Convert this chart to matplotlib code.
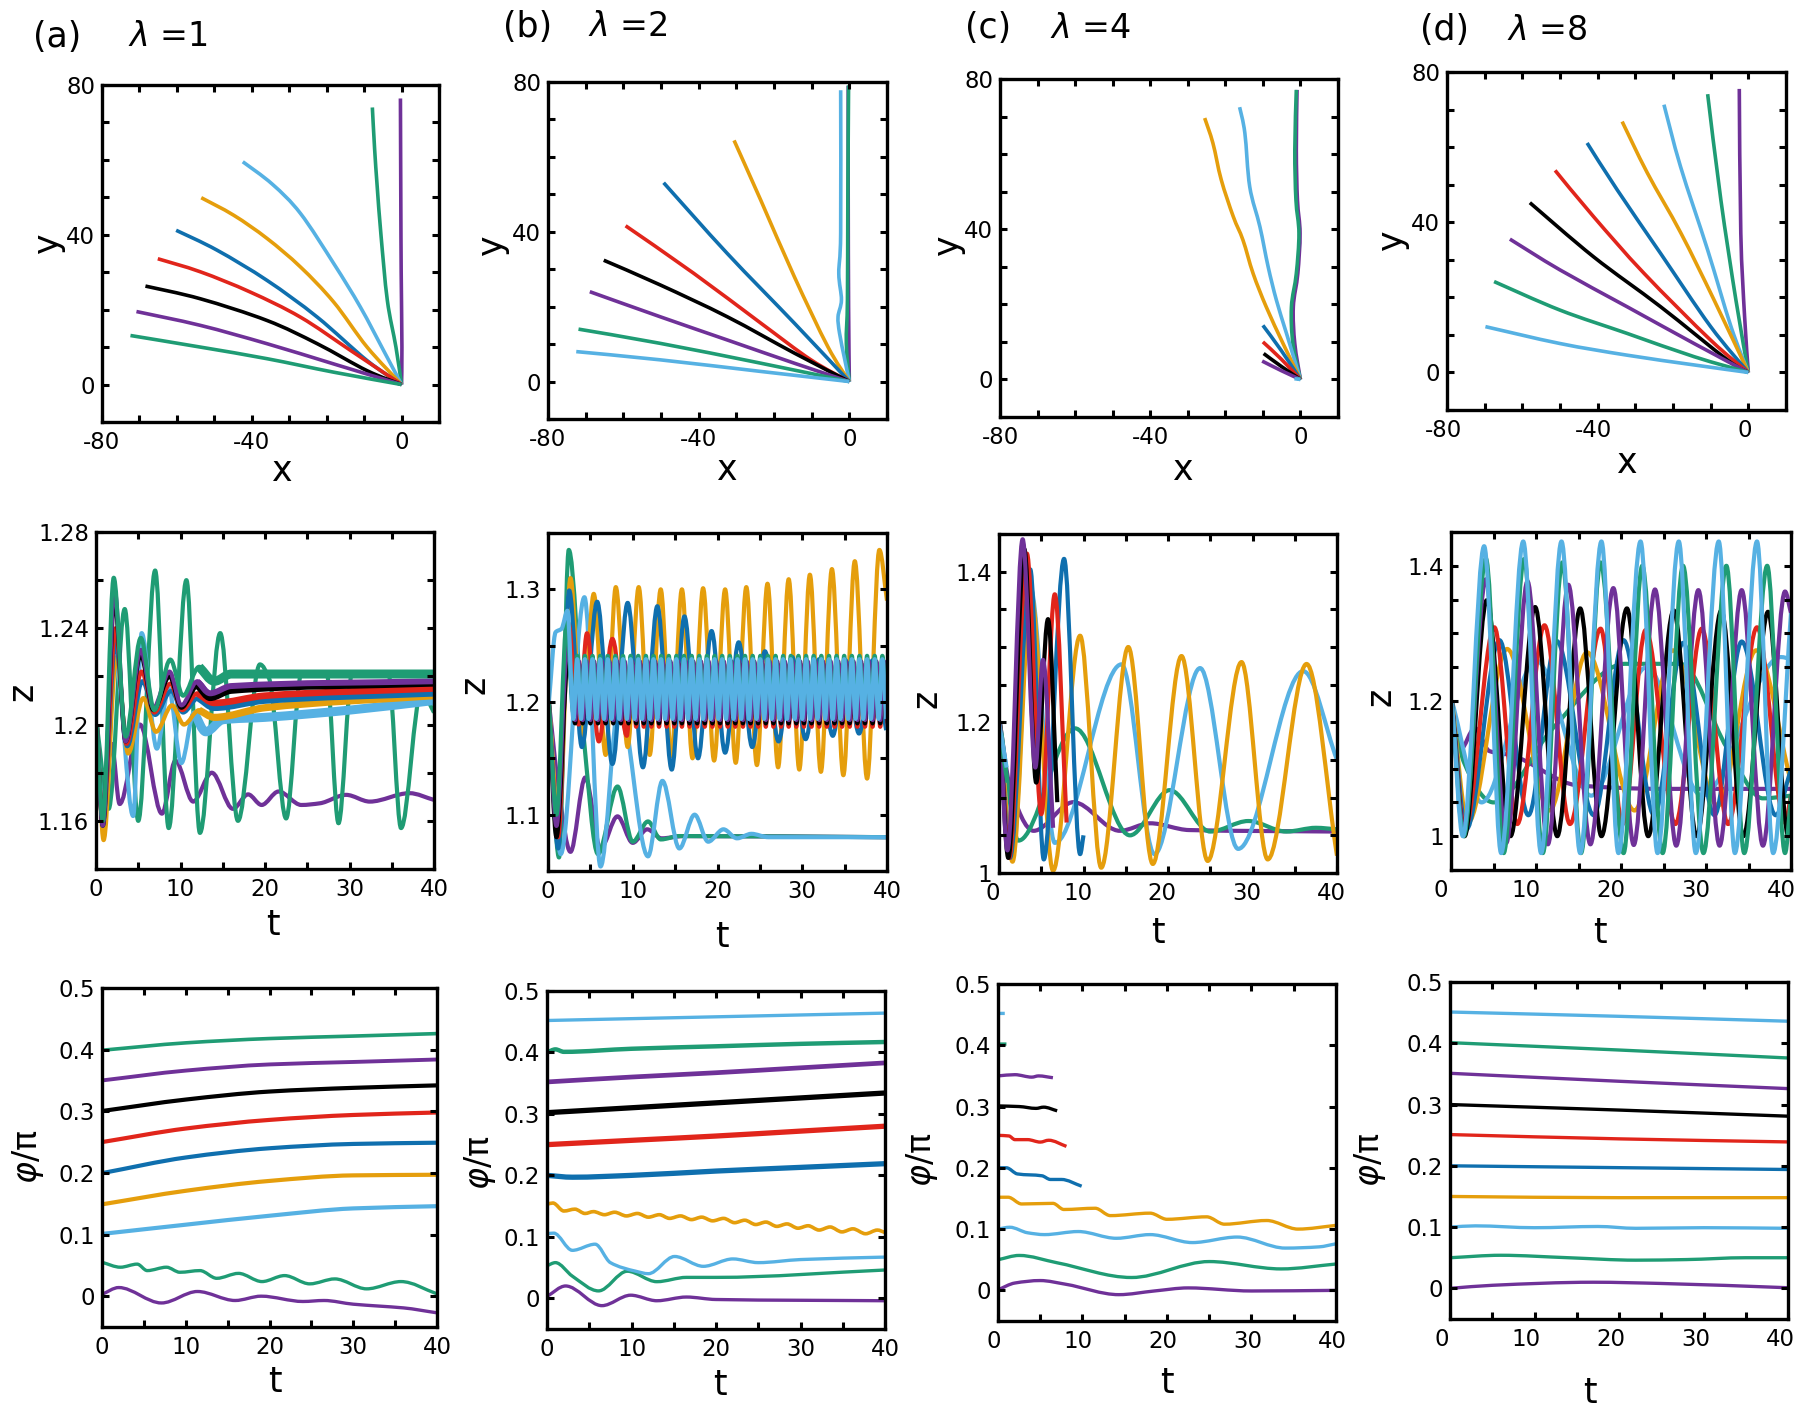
import numpy as np
import matplotlib
matplotlib.use("Agg")
import matplotlib.pyplot as plt
from matplotlib.path import Path
from matplotlib.patches import PathPatch
from matplotlib.transforms import ScaledTranslation

plt.rcParams['font.family'] = ['DejaVu Sans']
plt.rcParams['mathtext.fontset'] = 'dejavusans'

# colours by initial angle phi0/pi
C00 = "#6F3198"; C05 = "#1F9C74"; C10 = "#56B1E3"; C15 = "#E59E0C"; C20 = "#0F6FAE"
C25 = "#E1251B"; C30 = "#000000"; C35 = "#6F3198"; C40 = "#1F9C74"; C45 = "#56B1E3"

# ---------------- tick values / labels ----------------
XT_TOP = [-80, -70, -60, -50, -40, -30, -20, -10, 0, 10]
XTL_TOP = ['-80', '', '', '', '-40', '', '', '', '0', '']
YT_TOP = [-10, 0, 10, 20, 30, 40, 50, 60, 70, 80]
YTL_TOP = ['', '0', '', '', '', '40', '', '', '', '80']
XT_T = [0, 5, 10, 15, 20, 25, 30, 35, 40]
XTL_T = ['0', '', '10', '', '20', '', '30', '', '40']
YT_ZA = [1.14, 1.16, 1.18, 1.20, 1.22, 1.24, 1.26, 1.28]
YTL_ZA = ['', '1.16', '', '1.2', '', '1.24', '', '1.28']
YT_ZB = [1.05, 1.10, 1.15, 1.20, 1.25, 1.30, 1.35]
YTL_ZB = ['', '1.1', '', '1.2', '', '1.3', '']
YT_ZC = [1.00, 1.05, 1.10, 1.15, 1.20, 1.25, 1.30, 1.35, 1.40, 1.45]
YTL_ZC = ['1', '', '', '', '1.2', '', '', '', '1.4', '']
YT_ZD = [0.95, 1.00, 1.05, 1.10, 1.15, 1.20, 1.25, 1.30, 1.35, 1.40, 1.45]
YTL_ZD = ['', '1', '', '', '', '1.2', '', '', '', '1.4', '']
YT_P = [0.0, 0.1, 0.2, 0.3, 0.4, 0.5]
YTL_P = ['0', '0.1', '0.2', '0.3', '0.4', '0.5']

# ================= ROW 1 : trajectories (x, y) =================
ta_x_00 = [0, 0.1, -0.1, -0.2, -0.3];            ta_y_00 = [0, 10, 30, 50, 76.4]
ta_x_05 = [0, -1.5, -3.8, -5.5, -6.5, -7.2, -7.8]; ta_y_05 = [0, 10, 22.5, 40, 52.8, 63, 74]
ta_x_10 = [0, -4.7, -11.0, -18.1, -27.0, -34.5, -42.4]; ta_y_10 = [0, 8.9, 20.7, 32.3, 45.7, 53.5, 59.5]
ta_x_15 = [0, -9.2, -18.1, -27.0, -35.9, -44.8, -53.5]; ta_y_15 = [0, 10.0, 22.0, 31.4, 39.0, 45.2, 49.9]
ta_x_20 = [0, -9.2, -22.5, -35.9, -49.3, -60.2]; ta_y_20 = [0, 6.4, 18.0, 27.8, 35.9, 41.2]
ta_x_25 = [0, -13.6, -27.0, -40.4, -53.7, -65.1]; ta_y_25 = [0, 9.1, 18.0, 24.7, 30.1, 33.6]
ta_x_30 = [0, -9.2, -22.5, -35.9, -53.7, -68.4]; ta_y_30 = [0, 3.7, 10.9, 17.1, 22.9, 26.3]
ta_x_35 = [0, -18.1, -35.9, -53.7, -70.8];        ta_y_35 = [0, 5.5, 10.9, 15.8, 19.5]
ta_x_40 = [0, -18.1, -35.9, -53.7, -72.4];        ta_y_40 = [0, 3.3, 6.9, 10.0, 13.1]

tb_x_00 = [0, -0.2, -0.3, -0.3];                 tb_y_00 = [0, 20, 50, 79]
tb_x_05 = [0, -0.8, -0.5, -0.4, -0.2];           tb_y_05 = [0, 10.2, 21.8, 48.4, 79.1]
tb_x_10 = [0, -1.2, -2.6, -3.0, -2.1, -2.8, -2.3, -2.3]; tb_y_10 = [0, 5.8, 12.9, 17.3, 21.8, 28.9, 39.6, 77.8]
tb_x_15 = [0, -5.7, -14.6, -23.5, -30.6];        tb_y_15 = [0, 9.3, 28.0, 48.4, 64.4]
tb_x_20 = [0, -14.6, -32.4, -49.3];              tb_y_20 = [0, 15.6, 34.2, 53.1]
tb_x_25 = [0, -10.2, -23.5, -41.3, -59.4];       tb_y_25 = [0, 5.8, 15.6, 28.9, 41.6]
tb_x_30 = [0, -14.6, -32.4, -50.2, -65.2];       tb_y_30 = [0, 7.6, 17.3, 25.8, 32.4]
tb_x_35 = [0, -14.6, -32.4, -50.2, -68.9];       tb_y_35 = [0, 4.9, 11.1, 17.3, 24.0]
tb_x_40 = [0, -23.5, -50.2, -71.9];              tb_y_40 = [0, 4.9, 10.2, 14.0]
tb_x_45 = [0, -23.5, -50.2, -72.5];              tb_y_45 = [0, 2.7, 5.8, 8.0]

tc_x_00 = [0, -1.5, -1.9, -0.7, -0.1, -0.8, -1.1, -0.9]; tc_y_00 = [0, 9.5, 19.3, 28.2, 38.9, 47.8, 61.1, 77.1]
tc_x_05 = [0, -2.0, -2.4, -1.1, -0.4, -1.2, -1.5, -1.1]; tc_y_05 = [0, 9.5, 19.3, 28.2, 38.9, 47.8, 61.1, 77.1]
tc_x_10 = [0, -3.7, -6.4, -8.6, -10.8, -13.5, -14.8, -16.2]; tc_y_10 = [0, 12.2, 21.1, 30.0, 40.7, 51.3, 65.6, 72.5]
tc_x_15 = [0, -4.6, -9.1, -12.6, -15.3, -17.9, -21.1, -23.3, -25.5]; tc_y_15 = [0, 9.5, 19.3, 28.2, 37.1, 43.4, 53.2, 62.9, 69.6]
tc_x_20 = [0, -5.1, -10.0]; tc_y_20 = [0, 7.7, 14.4]
tc_x_25 = [0, -5.0, -10.0]; tc_y_25 = [0, 5.3, 10.0]
tc_x_30 = [0, -5.0, -9.8];  tc_y_30 = [0, 3.4, 6.9]
tc_x_35 = [0, -5.0, -10.2]; tc_y_35 = [0, 2.3, 4.9]
tc_x_40 = [0, -0.9];        tc_y_40 = [0, 0.3]
tc_x_45 = [0, -1.6];        tc_y_45 = [0, 0.2]

td_x_00 = [0, -1.0, -2.0, -2.4];                 td_y_00 = [0, 15, 37.1, 75.5]
td_x_05 = [0, -3.3, -7.3, -10.8];                td_y_05 = [0, 19.3, 46.0, 74.1]
td_x_10 = [0, -4.6, -10.8, -18.0, -22.4];        td_y_10 = [0, 12.2, 32.6, 54.8, 71.3]
td_x_15 = [0, -9.1, -17.9, -26.8, -33.5];        td_y_15 = [0, 19.3, 37.1, 53.1, 66.8]
td_x_20 = [0, -10.0, -23.3, -34.8, -42.8];       td_y_20 = [0, 12.2, 31.7, 48.6, 61.1]
td_x_25 = [0, -10.0, -27.7, -41.1, -51.3];       td_y_25 = [0, 8.6, 26.4, 41.5, 53.8]
td_x_30 = [0, -5.5, -23.3, -41.1, -58.0];        td_y_30 = [0, 3.3, 17.5, 30.8, 45.2]
td_x_35 = [0, -14.4, -32.2, -50.0, -63.3];       td_y_35 = [0, 7.7, 17.5, 27.3, 35.5]
td_x_40 = [0, -14.4, -32.2, -50.0, -67.5];       td_y_40 = [0, 4.2, 10.4, 16.6, 24.2]
td_x_45 = [0, -14.4, -32.2, -50.0, -69.8];       td_y_45 = [0, 2.0, 4.6, 7.7, 12.2]

# ================= ROW 2 : z(t), extrema =================
# (a) lambda = 1
za_t_00 = [0.1, 0.8, 1.85, 2.8, 5.2, 7.8, 9.4, 11.5, 13.7, 16.2, 18.0, 19.6, 21.6, 24.3, 26.5, 29.6, 32.4, 37.1, 40.0]
za_z_00 = [1.2, 1.16, 1.192, 1.167, 1.2, 1.163, 1.185, 1.168, 1.18, 1.165, 1.171, 1.1666, 1.1722, 1.1666, 1.1673, 1.1708, 1.168, 1.1715, 1.1687]
za_t_05 = [0.1, 1.5, 3.4, 5.0, 7.0, 8.6, 10.7, 12.3, 14.7, 16.8, 19.4, 20.5, 22.5, 24.3, 27.3, 28.7, 30.3, 34.6, 36.1, 38.5, 40.0]
za_z_05 = [1.2, 1.165, 1.248, 1.16, 1.264, 1.157, 1.26, 1.155, 1.238, 1.16, 1.225, 1.219, 1.161, 1.221, 1.221, 1.159, 1.221, 1.221, 1.157, 1.214, 1.205]
za_t_10 = [0.1, 0.9, 2.3, 4.4, 5.4, 7.2, 8.6, 10.1, 11.6, 13.0, 15.0, 20.0, 30.0, 40.0]
za_z_10 = [1.2, 1.158, 1.226, 1.162, 1.238, 1.19, 1.215, 1.184, 1.205, 1.197, 1.202, 1.203, 1.206, 1.21]
za_t_15 = [0.1, 0.9, 2.4, 3.8, 5.6, 7.1, 9.0, 10.4, 12.2, 14.0, 20.0, 40.0]
za_z_15 = [1.2, 1.152, 1.228, 1.188, 1.211, 1.197, 1.208, 1.2, 1.206, 1.203, 1.207, 1.212]
za_t_20 = [0.1, 0.8, 2.3, 3.7, 5.5, 7.0, 8.9, 10.3, 12.1, 14.0, 20.0, 40.0]
za_z_20 = [1.2, 1.158, 1.234, 1.191, 1.218, 1.204, 1.214, 1.205, 1.211, 1.207, 1.21, 1.213]
za_t_25 = [0.1, 0.8, 2.3, 3.6, 5.4, 6.9, 8.8, 10.2, 12.0, 14.0, 20.0, 40.0]
za_z_25 = [1.2, 1.159, 1.240, 1.192, 1.222, 1.205, 1.217, 1.206, 1.213, 1.209, 1.212, 1.215]
za_t_30 = [0.1, 0.8, 2.2, 3.5, 5.3, 6.8, 8.7, 10.1, 12.0, 13.5, 16.0, 40.0]
za_z_30 = [1.2, 1.158, 1.252, 1.193, 1.229, 1.206, 1.220, 1.207, 1.216, 1.211, 1.214, 1.217]
za_t_35 = [0.1, 0.8, 2.2, 3.5, 5.3, 6.8, 8.7, 10.1, 12.0, 13.5, 16.0, 40.0]
za_z_35 = [1.2, 1.158, 1.256, 1.193, 1.231, 1.207, 1.222, 1.208, 1.218, 1.213, 1.216, 1.218]
za_t_40 = [0.1, 0.8, 2.1, 3.5, 5.3, 6.9, 8.8, 10.3, 12.2, 14.0, 16.0, 40.0]
za_z_40 = [1.2, 1.16, 1.261, 1.195, 1.236, 1.206, 1.227, 1.212, 1.224, 1.218, 1.221, 1.221]

# (b) lambda = 2  -- times of the fast oscillation extrema in the dense band
t_band_b1 = [3.0, 3.45, 3.9, 4.35, 4.8, 5.25, 5.7, 6.15, 6.6, 7.05, 7.5, 7.95, 8.4, 8.85, 9.3, 9.75,
             10.2, 10.65, 11.1, 11.55, 12.0, 12.45, 12.9, 13.35, 13.8, 14.25, 14.7, 15.15, 15.6, 16.05,
             16.5, 16.95, 17.4, 17.85, 18.3, 18.75, 19.2, 19.65, 20.1, 20.55, 21.0, 21.45, 21.9, 22.35,
             22.8, 23.25, 23.7, 24.15, 24.6, 25.05, 25.5, 25.95, 26.4, 26.85, 27.3, 27.75, 28.2, 28.65,
             29.1, 29.55, 30.0, 30.45, 30.9, 31.35, 31.8, 32.25, 32.7, 33.15, 33.6, 34.05, 34.5, 34.95,
             35.4, 35.85, 36.3, 36.75, 37.2, 37.65, 38.1, 38.55, 39.0, 39.45, 39.9]
t_band_b2 = [3.2, 3.65, 4.1, 4.55, 5.0, 5.45, 5.9, 6.35, 6.8, 7.25, 7.7, 8.15, 8.6, 9.05, 9.5, 9.95,
             10.4, 10.85, 11.3, 11.75, 12.2, 12.65, 13.1, 13.55, 14.0, 14.45, 14.9, 15.35, 15.8, 16.25,
             16.7, 17.15, 17.6, 18.05, 18.5, 18.95, 19.4, 19.85, 20.3, 20.75, 21.2, 21.65, 22.1, 22.55,
             23.0, 23.45, 23.9, 24.35, 24.8, 25.25, 25.7, 26.15, 26.6, 27.05, 27.5, 27.95, 28.4, 28.85,
             29.3, 29.75, 30.2, 30.65, 31.1, 31.55, 32.0, 32.45, 32.9, 33.35, 33.8, 34.25, 34.7, 35.15,
             35.6, 36.05, 36.5, 36.95, 37.4, 37.85, 38.3, 38.75, 39.2, 39.65, 40.1]

zb_t_00 = [0.1, 1.3, 2.65, 4.4, 6.2, 8.2, 10.0, 11.7, 13.4, 16.0, 40.0]
zb_z_00 = [1.2, 1.12, 1.067, 1.133, 1.07, 1.0985, 1.075, 1.087, 1.079, 1.081, 1.08]
zb_t_05 = [0.1, 1.3, 2.45, 4.2, 5.9, 8.2, 10.0, 11.8, 13.3, 15.5, 40.0]
zb_z_05 = [1.2, 1.062, 1.335, 1.17, 1.065, 1.125, 1.076, 1.094, 1.078, 1.081, 1.08]
zb_t_10 = [0.1, 1.5, 4.3, 6.2, 8.4, 11.8, 13.5, 15.5, 17.3, 18.9, 20.7, 22.3, 24.0, 26.0, 40.0]
zb_z_10 = [1.2, 1.065, 1.293, 1.054, 1.2, 1.063, 1.13, 1.07, 1.1, 1.076, 1.087, 1.079, 1.083, 1.08, 1.08]
zb_t_15 = [0.1, 1.3, 2.65, 4.0, 5.4, 6.8, 8.0, 9.4, 10.7, 12.0, 13.3, 14.55, 15.8, 17.05, 18.3, 19.6,
           20.9, 22.15, 23.4, 24.65, 25.9, 27.15, 28.4, 29.65, 30.9, 32.2, 33.5, 34.85, 36.2, 37.65, 39.1, 40.0]
zb_z_15 = [1.2, 1.09, 1.31, 1.165, 1.296, 1.153, 1.302, 1.16, 1.302, 1.153, 1.300, 1.152, 1.300, 1.15,
           1.301, 1.148, 1.300, 1.146, 1.302, 1.144, 1.305, 1.142, 1.309, 1.14, 1.313, 1.138, 1.318,
           1.135, 1.325, 1.132, 1.335, 1.29]
zb_t_20 = [0.1, 1.2, 2.5, 4.0, 5.8, 7.6, 9.4, 11.2, 12.9, 14.6, 16.1, 17.7, 19.3, 20.9, 22.5, 24.1,
           25.6, 27.2, 28.8, 30.4, 32.0, 33.6, 35.1, 36.7, 38.3, 39.9]
zb_z_20 = [1.2, 1.07, 1.299, 1.16, 1.289, 1.145, 1.288, 1.142, 1.285, 1.14, 1.276, 1.15, 1.263, 1.155,
           1.253, 1.16, 1.245, 1.165, 1.24, 1.167, 1.238, 1.17, 1.237, 1.172, 1.237, 1.175]
zb_t_25 = [0.1, 1.2, 2.4, 3.6, 4.6, 6.0, 7.6, 9.3] + t_band_b2[15:]
zb_z_25 = [1.2, 1.08, 1.27, 1.18, 1.261, 1.165, 1.256, 1.17] + [1.234, 1.178] * 34
zb_t_30 = [0.1, 1.0, 2.4] + t_band_b2
zb_z_30 = [1.2, 1.08, 1.24] + [1.181, 1.234] * 41 + [1.181]
zb_t_35 = [0.1, 1.0, 2.3] + t_band_b2
zb_z_35 = [1.2, 1.09, 1.25] + [1.184, 1.236] * 41 + [1.184]
zb_t_40 = [0.1, 1.0, 2.2] + t_band_b1
zb_z_40 = [1.2, 1.1, 1.27] + [1.19, 1.241] * 41 + [1.19]
zb_t_45 = [0.1, 0.9, 1.6, 2.3] + t_band_b1
zb_z_45 = [1.2, 1.262, 1.265, 1.281] + [1.185, 1.238] * 41 + [1.185]

# (c) lambda = 4
zc_t_00 = [0.1, 1.2, 4.1, 8.8, 14.3, 17.9, 22.5, 40.0]
zc_z_00 = [1.2, 1.12, 1.056, 1.094, 1.056, 1.066, 1.057, 1.055]
zc_t_05 = [0.1, 2.3, 9.0, 15.5, 20.2, 25.0, 29.5, 34.0, 37.5, 40.0]
zc_z_05 = [1.2, 1.043, 1.192, 1.05, 1.11, 1.055, 1.069, 1.055, 1.06, 1.058]
zc_t_10 = [0.1, 1.6, 3.7, 6.6, 14.5, 18.4, 23.8, 28.3, 36.0, 40.0]
zc_z_10 = [1.2, 1.02, 1.38, 1.04, 1.277, 1.025, 1.272, 1.032, 1.268, 1.15]
zc_t_15 = [0.1, 1.6, 3.8, 6.4, 9.6, 12.1, 15.3, 18.2, 21.6, 24.7, 28.7, 31.8, 36.4, 40.0]
zc_z_15 = [1.2, 1.015, 1.37, 1.003, 1.315, 1.007, 1.300, 1.012, 1.288, 1.016, 1.28, 1.018, 1.2775, 1.023]
zc_t_20 = [0.1, 1.3, 3.7, 5.3, 7.7, 9.6, 10.0]
zc_z_20 = [1.2, 1.02, 1.403, 1.018, 1.417, 1.025, 1.05]
zc_t_25 = [0.1, 1.2, 3.3, 5.0, 6.6, 8.0]
zc_z_25 = [1.2, 1.02, 1.424, 1.078, 1.37, 1.067]
zc_t_30 = [0.1, 1.1, 3.0, 4.4, 5.8, 6.9]
zc_z_30 = [1.2, 1.02, 1.43, 1.12, 1.337, 1.094]
zc_t_35 = [0.1, 1.0, 2.8, 4.3, 5.2, 6.4]
zc_z_35 = [1.2, 1.03, 1.443, 1.14, 1.283, 1.06]
zc_t_40 = [0.0, 1.0]; zc_z_40 = [1.19, 1.12]
zc_t_45 = [0.0, 0.9]; zc_z_45 = [1.2, 1.14]

# (d) lambda = 8
zd_t_00 = [0.1, 1.1, 2.8, 4.5, 7.0, 15.0, 25.0, 40.0]
zd_z_00 = [1.2, 1.128, 1.16, 1.126, 1.12, 1.075, 1.07, 1.07]
zd_t_05 = [0.1, 1.5, 5.0, 12.0, 20.5, 27.0, 32.5, 36.7, 40.0]
zd_z_05 = [1.2, 1.11, 1.05, 1.16, 1.255, 1.255, 1.13, 1.056, 1.06]
zd_t_10 = [0.1, 3.6, 10.0, 16.5, 23.0, 29.5, 38.8, 40.0]
zd_z_10 = [1.2, 1.05, 1.26, 1.06, 1.25, 1.06, 1.265, 1.262]
zd_t_15 = [0.1, 2.0, 6.6, 11.6, 16.0, 21.6, 26.1, 31.4, 35.9, 40.0]
zd_z_15 = [1.2, 1.02, 1.277, 1.038, 1.272, 1.038, 1.275, 1.045, 1.275, 1.08]
zd_t_20 = [0.1, 1.8, 5.7, 9.1, 12.4, 16.8, 20.3, 23.9, 27.3, 31.0, 34.2, 38.2, 40.0]
zd_z_20 = [1.2, 1.01, 1.29, 1.031, 1.289, 1.031, 1.29, 1.031, 1.286, 1.031, 1.288, 1.031, 1.1]
zd_t_25 = [0.1, 1.6, 5.1, 7.8, 11.0, 14.0, 17.6, 20.2, 22.9, 26.4, 29.5, 32.6, 36.0, 39.3, 40.0]
zd_z_25 = [1.2, 1.01, 1.309, 1.018, 1.312, 1.018, 1.307, 1.018, 1.305, 1.018, 1.307, 1.018, 1.309, 1.02, 1.06]
zd_t_30 = [0.1, 1.6, 4.2, 7.0, 9.9, 12.5, 15.2, 17.7, 20.7, 23.2, 26.2, 28.9, 31.8, 34.4, 37.3, 39.7, 40.0]
zd_z_30 = [1.2, 1.0, 1.349, 1.0, 1.339, 1.0, 1.337, 1.0, 1.337, 1.0, 1.334, 1.0, 1.334, 1.0, 1.332, 1.0, 1.02]
zd_t_35 = [0.1, 1.5, 4.1, 6.5, 9.0, 11.4, 13.8, 16.4, 19.1, 21.5, 24.0, 26.5, 29.1, 31.6, 34.2, 36.7, 39.3, 40.0]
zd_z_35 = [1.2, 1.01, 1.38, 0.99, 1.377, 0.988, 1.372, 0.988, 1.367, 0.987, 1.365, 0.986, 1.364, 0.986, 1.364, 0.986, 1.362, 1.33]
zd_t_40 = [0.1, 1.5, 4.1, 6.2, 8.6, 10.8, 13.1, 15.3, 17.6, 20.3, 22.5, 24.9, 27.3, 29.7, 32.4, 34.5, 37.2, 39.3, 40.0]
zd_z_40 = [1.2, 1.0, 1.411, 0.975, 1.41, 0.975, 1.405, 0.975, 1.405, 0.975, 1.40, 0.975, 1.40, 0.975, 1.40, 0.975, 1.40, 0.975, 1.06]
zd_t_45 = [0.1, 1.4, 3.9, 5.9, 8.5, 10.6, 13.0, 15.2, 17.7, 19.7, 22.3, 24.3, 26.8, 28.8, 31.5, 33.4, 36.0, 37.9, 40.0]
zd_z_45 = [1.2, 1.0, 1.429, 0.975, 1.436, 0.975, 1.436, 0.975, 1.436, 0.975, 1.436, 0.975, 1.436, 0.975, 1.436, 0.975, 1.436, 0.975, 1.33]

# ================= ROW 3 : phi/pi (t) =================
pa_t_main = [0, 10, 20, 30, 40]
pa_t_00 = [0, 2, 7.1, 11.4, 15.9, 19.0, 24.0, 26.5, 30.0, 33.0, 36.0, 40.0]
pa_v_00 = [0.003, 0.014, -0.011, 0.0076, -0.007, 0.0, -0.0086, -0.007, -0.013, -0.016, -0.019, -0.027]
pa_t_05 = [0, 2.2, 4.2, 5.4, 7.7, 9.3, 11.7, 13.7, 16.3, 19.1, 21.8, 24.8, 27.8, 31.6, 35.7, 40.0]
pa_v_05 = [0.055, 0.047, 0.052, 0.0415, 0.047, 0.0388, 0.0415, 0.029, 0.037, 0.0237, 0.0334, 0.02, 0.028, 0.0119, 0.0237, 0.0038]
pa_v_10 = [0.101, 0.116, 0.1305, 0.1424, 0.146]
pa_v_15 = [0.149, 0.171, 0.187, 0.196, 0.197]
pa_v_20 = [0.1996, 0.225, 0.24, 0.247, 0.249]
pa_v_25 = [0.25, 0.272, 0.286, 0.294, 0.298]
pa_v_30 = [0.3004, 0.319, 0.332, 0.338, 0.342]
pa_v_35 = [0.35, 0.366, 0.376, 0.38, 0.384]
pa_v_40 = [0.399, 0.411, 0.418, 0.422, 0.426]

pb_t_main = [0, 10, 20, 30, 40]
pb_t_00 = [0, 2.2, 6.5, 9.9, 13.0, 16.5, 20.0, 40.0]
pb_v_00 = [0.003, 0.020, -0.012, 0.005, -0.004, 0.002, -0.002, -0.004]
pb_t_05 = [0, 1.0, 3.0, 6.1, 9.5, 13.0, 16.5, 20.0, 40.0]
pb_v_05 = [0.053, 0.058, 0.036, 0.012, 0.044, 0.027, 0.034, 0.034, 0.046]
pb_t_10 = [0, 0.8, 3.0, 5.7, 7.5, 10.5, 12.0, 15.1, 18.5, 22.0, 25.0, 30.0, 40.0]
pb_v_10 = [0.105, 0.106, 0.078, 0.088, 0.058, 0.044, 0.040, 0.068, 0.052, 0.064, 0.058, 0.063, 0.067]
pb_t_15 = [0, 0.7, 2.0, 3.3, 4.5, 5.5, 6.8, 8.0, 9.4, 10.7, 12.0, 13.3, 14.5, 15.8, 17.1, 18.3, 19.6,
           20.9, 22.2, 23.4, 24.7, 25.9, 27.2, 28.4, 29.7, 30.9, 32.2, 33.5, 34.9, 36.2, 37.7, 39.1, 40.0]
pb_v_15 = [0.153, 0.155, 0.142, 0.145, 0.138, 0.141, 0.136, 0.14, 0.134, 0.138, 0.132, 0.136, 0.13,
           0.134, 0.128, 0.132, 0.126, 0.13, 0.123, 0.127, 0.12, 0.124, 0.117, 0.121, 0.114, 0.118,
           0.111, 0.116, 0.108, 0.113, 0.105, 0.111, 0.107]
pb_t_20 = [0, 3, 10, 20, 30, 40]
pb_v_20 = [0.200, 0.197, 0.200, 0.207, 0.213, 0.219]
pb_v_25 = [0.250, 0.257, 0.264, 0.272, 0.280]
pb_v_30 = [0.302, 0.310, 0.318, 0.326, 0.334]
pb_v_35 = [0.352, 0.360, 0.367, 0.375, 0.383]
pb_t_40 = [0, 1, 2, 10, 20, 30, 40]
pb_v_40 = [0.400, 0.405, 0.401, 0.406, 0.410, 0.414, 0.417]
pb_v_45 = [0.452, 0.455, 0.458, 0.461, 0.464]

pc_t_00 = [0, 2.0, 5.0, 8.0, 14.3, 18.5, 22.5, 30.0, 40.0]
pc_v_00 = [0.001, 0.012, 0.016, 0.010, -0.007, -0.001, 0.004, -0.001, 0.000]
pc_t_05 = [0, 2.5, 7.0, 15.8, 25.0, 33.5, 40.0]
pc_v_05 = [0.050, 0.057, 0.045, 0.021, 0.047, 0.035, 0.043]
pc_t_10 = [0, 1.4, 3.5, 5.5, 9.5, 14.0, 18.0, 23.0, 28.3, 34.0, 38.0, 40.0]
pc_v_10 = [0.100, 0.103, 0.094, 0.091, 0.096, 0.085, 0.091, 0.078, 0.087, 0.069, 0.071, 0.076]
pc_t_15 = [0, 1.2, 2.8, 6.5, 7.8, 11.5, 13.3, 18.0, 20.0, 24.7, 26.8, 31.8, 35.5, 40.0]
pc_v_15 = [0.152, 0.152, 0.141, 0.142, 0.132, 0.134, 0.122, 0.126, 0.116, 0.120, 0.108, 0.114, 0.100, 0.106]
pc_t_20 = [0, 1.0, 2.3, 5.2, 6.2, 7.5, 9.9]
pc_v_20 = [0.200, 0.200, 0.190, 0.187, 0.181, 0.181, 0.170]
pc_t_25 = [0, 1.3, 2.0, 3.5, 5.0, 6.0, 8.1]
pc_v_25 = [0.253, 0.252, 0.246, 0.246, 0.242, 0.245, 0.235]
pc_t_30 = [0, 2.5, 4.5, 5.4, 7.0]
pc_v_30 = [0.301, 0.300, 0.297, 0.299, 0.293]
pc_t_35 = [0, 2.0, 4.0, 4.8, 6.5]
pc_v_35 = [0.350, 0.352, 0.348, 0.350, 0.347]
pc_t_40 = [0, 1.0];  pc_v_40 = [0.402, 0.402]
pc_t_45 = [0, 0.8];  pc_v_45 = [0.452, 0.452]

pd_t_main = [0, 20, 40]
pd_t_00 = [0, 5, 17, 25, 40];              pd_v_00 = [0.000, 0.005, 0.010, 0.008, 0.001]
pd_t_05 = [0, 6, 14, 22, 28, 35, 40];      pd_v_05 = [0.050, 0.054, 0.050, 0.046, 0.047, 0.050, 0.050]
pd_t_10 = [0, 3, 10, 17.5, 22, 30, 40];    pd_v_10 = [0.100, 0.102, 0.099, 0.101, 0.098, 0.099, 0.098]
pd_v_15 = [0.150, 0.148, 0.148]
pd_v_20 = [0.200, 0.197, 0.194]
pd_v_25 = [0.251, 0.244, 0.239]
pd_v_30 = [0.300, 0.291, 0.281]
pd_v_35 = [0.351, 0.338, 0.326]
pd_v_40 = [0.401, 0.389, 0.376]
pd_v_45 = [0.451, 0.444, 0.436]

# ======================= drawing helpers =======================
W, H = 1800, 1426
fig = plt.figure(figsize=(W / 100, H / 100), dpi=100)
fig.patch.set_facecolor('white')


def new_axes(L, T, R, B):
    return fig.add_axes([L / W, 1 - B / H, (R - L) / W, (B - T) / H])


def style(ax, xlim, ylim, xt, xtl, yt, ytl, xshift=0):
    ax.set_xlim(*xlim)
    ax.set_ylim(*ylim)
    ax.set_xticks(xt)
    ax.set_xticklabels(xtl)
    ax.set_yticks(yt)
    ax.set_yticklabels(ytl)
    ax.tick_params(which='both', direction='in', top=True, right=True,
                   length=5, width=2.2, labelsize=16.5)
    ax.tick_params(axis='y', pad=5)
    ax.tick_params(axis='x', pad=6.5)
    for s in ax.spines.values():
        s.set_linewidth(2.4)
    if xshift:
        off = ScaledTranslation(xshift / 100, 0, fig.dpi_scale_trans)
        for lbl in ax.get_xticklabels():
            lbl.set_transform(lbl.get_transform() + off)


def hermite_path(t, v):
    """Smooth monotone (PCHIP-like) Bezier path through the data points."""
    t = np.asarray(t, float)
    v = np.asarray(v, float)
    n = len(t)
    h = np.diff(t)
    d = np.diff(v) / h
    m = np.zeros(n)
    if n == 2:
        m[:] = d[0]
    else:
        for i in range(1, n - 1):
            if d[i - 1] * d[i] > 0:
                w1 = 2 * h[i] + h[i - 1]
                w2 = h[i] + 2 * h[i - 1]
                m[i] = (w1 + w2) / (w1 / d[i - 1] + w2 / d[i])
        m[0] = d[0]
        m[-1] = d[-1]
    verts = [(t[0], v[0])]
    codes = [Path.MOVETO]
    for i in range(n - 1):
        verts += [(t[i] + h[i] / 3, v[i] + m[i] * h[i] / 3),
                  (t[i + 1] - h[i] / 3, v[i + 1] - m[i + 1] * h[i] / 3),
                  (t[i + 1], v[i + 1])]
        codes += [Path.CURVE4] * 3
    return Path(verts, codes)


def cr_path(x, y):
    """Smooth Catmull-Rom Bezier path through (x, y) points."""
    P = np.column_stack([x, y]).astype(float)
    n = len(P)
    verts = [P[0]]
    codes = [Path.MOVETO]
    for i in range(n - 1):
        p0 = P[max(i - 1, 0)]
        p1 = P[i]
        p2 = P[i + 1]
        p3 = P[min(i + 2, n - 1)]
        verts += [p1 + (p2 - p0) / 6, p2 - (p3 - p1) / 6, p2]
        codes += [Path.CURVE4] * 3
    return Path(verts, codes)


def tline(ax, t, v, c, lw):
    ax.add_patch(PathPatch(hermite_path(t, v), fc='none', ec=c, lw=lw,
                           capstyle='butt', joinstyle='round'))


def xyline(ax, x, y, c, lw):
    ax.add_patch(PathPatch(cr_path(x, y), fc='none', ec=c, lw=lw,
                           capstyle='butt', joinstyle='round'))


def ftext(x, y, s, size, **kw):
    fig.text(x / W, 1 - y / H, s, fontsize=size, **kw)


# ======================= ROW 1 =======================
LW_TR = 2.6
top_boxes = [(102, 85, 439, 422), (548, 82, 887, 419), (1000, 79, 1338, 417), (1447, 72, 1786, 410)]
top_shift = [0, 0, 0, -4]
top_series = [
    [(C00, ta_x_00, ta_y_00), (C05, ta_x_05, ta_y_05), (C10, ta_x_10, ta_y_10), (C15, ta_x_15, ta_y_15),
     (C20, ta_x_20, ta_y_20), (C25, ta_x_25, ta_y_25), (C30, ta_x_30, ta_y_30), (C35, ta_x_35, ta_y_35),
     (C40, ta_x_40, ta_y_40)],
    [(C00, tb_x_00, tb_y_00), (C05, tb_x_05, tb_y_05), (C10, tb_x_10, tb_y_10), (C15, tb_x_15, tb_y_15),
     (C20, tb_x_20, tb_y_20), (C25, tb_x_25, tb_y_25), (C30, tb_x_30, tb_y_30), (C35, tb_x_35, tb_y_35),
     (C40, tb_x_40, tb_y_40), (C45, tb_x_45, tb_y_45)],
    [(C00, tc_x_00, tc_y_00), (C05, tc_x_05, tc_y_05), (C10, tc_x_10, tc_y_10), (C15, tc_x_15, tc_y_15),
     (C20, tc_x_20, tc_y_20), (C25, tc_x_25, tc_y_25), (C30, tc_x_30, tc_y_30), (C35, tc_x_35, tc_y_35),
     (C40, tc_x_40, tc_y_40), (C45, tc_x_45, tc_y_45)],
    [(C00, td_x_00, td_y_00), (C05, td_x_05, td_y_05), (C10, td_x_10, td_y_10), (C15, td_x_15, td_y_15),
     (C20, td_x_20, td_y_20), (C25, td_x_25, td_y_25), (C30, td_x_30, td_y_30), (C35, td_x_35, td_y_35),
     (C40, td_x_40, td_y_40), (C45, td_x_45, td_y_45)],
]
for box, sh, series in zip(top_boxes, top_shift, top_series):
    ax = new_axes(*box)
    style(ax, (-80, 10), (-10, 80), XT_TOP, XTL_TOP, YT_TOP, YTL_TOP, sh)
    for c, x, y in series:
        xyline(ax, x, y, c, LW_TR)

# ======================= ROW 2 =======================
LW_Z = 3.0
mid_boxes = [(96, 532, 434, 869), (548, 533, 887, 871), (999, 534, 1337, 873), (1451, 532, 1791, 870)]
mid_shift = [0, 0, -6, -10]
mid_ylims = [(1.14, 1.28), (1.05, 1.35), (1.0, 1.45), (0.95, 1.45)]
mid_yt = [(YT_ZA, YTL_ZA), (YT_ZB, YTL_ZB), (YT_ZC, YTL_ZC), (YT_ZD, YTL_ZD)]
# (colour, t, z, start of thick steady band, thick width)
mid_series = [
    [(C00, za_t_00, za_z_00, None, 0), (C05, za_t_05, za_z_05, None, 0),
     (C10, za_t_10, za_z_10, 11.6, 6.5), (C15, za_t_15, za_z_15, 12.2, 5.2),
     (C20, za_t_20, za_z_20, 12.1, 4.8), (C25, za_t_25, za_z_25, 12.0, 4.8),
     (C30, za_t_30, za_z_30, 12.0, 4.3), (C35, za_t_35, za_z_35, 12.0, 4.3),
     (C40, za_t_40, za_z_40, 12.2, 6.5)],
    [(C00, zb_t_00, zb_z_00, None, 0), (C05, zb_t_05, zb_z_05, None, 0), (C10, zb_t_10, zb_z_10, None, 0),
     (C15, zb_t_15, zb_z_15, None, 0), (C20, zb_t_20, zb_z_20, None, 0), (C25, zb_t_25, zb_z_25, None, 0),
     (C30, zb_t_30, zb_z_30, None, 0), (C35, zb_t_35, zb_z_35, None, 0), (C40, zb_t_40, zb_z_40, None, 0),
     (C45, zb_t_45, zb_z_45, None, 0)],
    [(C00, zc_t_00, zc_z_00, None, 0), (C05, zc_t_05, zc_z_05, None, 0), (C10, zc_t_10, zc_z_10, None, 0),
     (C15, zc_t_15, zc_z_15, None, 0), (C20, zc_t_20, zc_z_20, None, 0), (C25, zc_t_25, zc_z_25, None, 0),
     (C30, zc_t_30, zc_z_30, None, 0), (C35, zc_t_35, zc_z_35, None, 0), (C40, zc_t_40, zc_z_40, None, 0),
     (C45, zc_t_45, zc_z_45, None, 0)],
    [(C00, zd_t_00, zd_z_00, None, 0), (C05, zd_t_05, zd_z_05, None, 0), (C10, zd_t_10, zd_z_10, None, 0),
     (C15, zd_t_15, zd_z_15, None, 0), (C20, zd_t_20, zd_z_20, None, 0), (C25, zd_t_25, zd_z_25, None, 0),
     (C30, zd_t_30, zd_z_30, None, 0), (C35, zd_t_35, zd_z_35, None, 0), (C40, zd_t_40, zd_z_40, None, 0),
     (C45, zd_t_45, zd_z_45, None, 0)],
]
for box, sh, yl, (yt, ytl), series in zip(mid_boxes, mid_shift, mid_ylims, mid_yt, mid_series):
    ax = new_axes(*box)
    style(ax, (0, 40), yl, XT_T, XTL_T, yt, ytl, sh)
    for c, t, z, ts, lw2 in series:
        tline(ax, t, z, c, LW_Z)
        if ts is not None:
            k = next(i for i, tt in enumerate(t) if tt >= ts)
            tline(ax, t[k:], z[k:], c, lw2)

# ======================= ROW 3 =======================
bot_boxes = [(102, 988, 437, 1327), (547, 991, 885, 1329), (998, 984, 1336, 1321), (1450, 982, 1788, 1319)]
bot_shift = [0, 0, -4, -8]
bot_series = [
    [(C00, pa_t_00, pa_v_00, 2.4), (C05, pa_t_05, pa_v_05, 2.4), (C10, pa_t_main, pa_v_10, 3.0),
     (C15, pa_t_main, pa_v_15, 3.0), (C20, pa_t_main, pa_v_20, 3.0), (C25, pa_t_main, pa_v_25, 3.0),
     (C30, pa_t_main, pa_v_30, 3.0), (C35, pa_t_main, pa_v_35, 2.8), (C40, pa_t_main, pa_v_40, 2.6)],
    [(C00, pb_t_00, pb_v_00, 2.4), (C05, pb_t_05, pb_v_05, 2.4), (C10, pb_t_10, pb_v_10, 2.4),
     (C15, pb_t_15, pb_v_15, 2.6), (C20, pb_t_20, pb_v_20, 3.8), (C25, pb_t_main, pb_v_25, 3.8),
     (C30, pb_t_main, pb_v_30, 3.8), (C35, pb_t_main, pb_v_35, 3.4), (C40, pb_t_40, pb_v_40, 3.2),
     (C45, pb_t_main, pb_v_45, 2.4)],
    [(C00, pc_t_00, pc_v_00, 2.4), (C05, pc_t_05, pc_v_05, 2.4), (C10, pc_t_10, pc_v_10, 2.4),
     (C15, pc_t_15, pc_v_15, 2.4), (C20, pc_t_20, pc_v_20, 2.4), (C25, pc_t_25, pc_v_25, 2.4),
     (C30, pc_t_30, pc_v_30, 2.4), (C35, pc_t_35, pc_v_35, 2.4), (C40, pc_t_40, pc_v_40, 2.4),
     (C45, pc_t_45, pc_v_45, 2.4)],
    [(C00, pd_t_00, pd_v_00, 2.4), (C05, pd_t_05, pd_v_05, 2.4), (C10, pd_t_10, pd_v_10, 2.4),
     (C15, pd_t_main, pd_v_15, 2.4), (C20, pd_t_main, pd_v_20, 2.4), (C25, pd_t_main, pd_v_25, 2.4),
     (C30, pd_t_main, pd_v_30, 2.4), (C35, pd_t_main, pd_v_35, 2.4), (C40, pd_t_main, pd_v_40, 2.4),
     (C45, pd_t_main, pd_v_45, 2.4)],
]
for box, sh, series in zip(bot_boxes, bot_shift, bot_series):
    ax = new_axes(*box)
    style(ax, (0, 40), (-0.05, 0.5), XT_T, XTL_T, YT_P, YTL_P, sh)
    for c, t, v, lw in series:
        tline(ax, t, v, c, lw)

# ======================= texts =======================
titles = [(33, 37, 128, "(a)", r"$\lambda$ =1"), (503, 27, 588, "(b)", r"$\lambda$ =2"),
          (965, 28, 1050, "(c)", r"$\lambda$ =4"), (1420, 30, 1507, "(d)", r"$\lambda$ =8")]
for x0, y0, x1, s0, s1 in titles:
    ftext(x0, y0, s0, 25, ha='left', va='center')
    ftext(x1, y0, s1, 24, ha='left', va='center')

LAB = 25
for x, y in [(48, 243), (492, 245), (948, 245), (1392, 240)]:
    ftext(x, y, "y", LAB, ha='center', va='center', rotation=90)
for x, y in [(282, 471), (727, 470), (1183, 470), (1627, 463)]:
    ftext(x, y, "x", LAB, ha='center', va='center')
for x, y in [(23, 692), (475, 685), (927, 699), (1380, 697)]:
    ftext(x, y, "z", LAB, ha='center', va='center', rotation=90)
for x, y in [(273, 925), (722, 937), (1158, 933), (1600, 933),
             (275, 1382), (720, 1385), (1167, 1383), (1590, 1393)]:
    ftext(x, y, "t", LAB, ha='center', va='center')
for x, y in [(28, 1157), (480, 1163), (922, 1160), (1370, 1160)]:
    ftext(x, y, r"$\varphi$/π", 24, ha='center', va='center', rotation=90)

fig.savefig("out.png", dpi=100, facecolor='white')
